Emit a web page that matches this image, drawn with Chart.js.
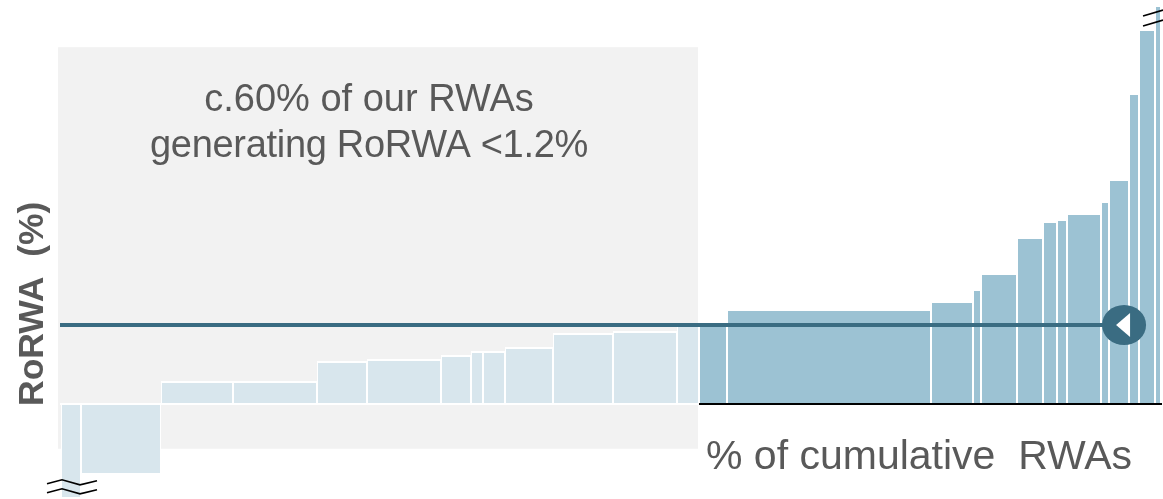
<!DOCTYPE html>
<html>
<head>
<meta charset="utf-8">
<style>html,body{margin:0;padding:0;background:#fff;overflow:hidden}canvas{display:block}</style>
<script src="https://cdn.jsdelivr.net/npm/chart.js@4"></script>
</head>
<body>
<canvas id="c" width="1163" height="499"></canvas>
<script>
// Share of cumulative RWAs per business (%), left to right
const rwaShare = [1.82,7.27,6.55,7.64,4.55,6.73,2.73,1.09,2.00,4.36,5.45,5.82,2.00,
                  2.55,18.55,3.82,0.73,3.27,2.36,1.27,0.91,3.09,0.73,1.82,0.91,1.45,0.55];
// RoRWA per business (%)
const rorwa = [-1.41,-1.05,0.35,0.35,0.65,0.68,0.74,0.81,0.81,0.87,1.08,1.11,1.20,
               1.23,1.44,1.56,1.75,1.99,2.54,2.78,2.81,2.90,3.08,3.42,4.72,5.70,6.06];
const averageRorwa = 1.2;
const highlightEnd = 58;      // cumulative % where the shaded group ends
const markerAt = 96.64;       // cumulative % of the average marker
const noteLines = ['c.60% of our RWAs', 'generating RoRWA <1.2%'];
const yTitle = 'RoRWA  (%)';
const xTitle = '% of cumulative  RWAs';

const LIGHT = '#D8E6ED', DARK = '#9CC2D3', LINE = '#3A6C82', BAND = '#F2F2F2', TEXT = '#595959';

let run = 0;
const starts = rwaShare.map(w => { const s = run; run += w; return s; });
const barData = rorwa.map((v, i) => ({x: starts[i] + rwaShare[i] / 2, y: v}));

const variableWidth = {
  id: 'variableWidth',
  afterDatasetsUpdate(chart) {
    const sx = chart.scales.x;
    chart.getDatasetMeta(0).data.forEach((el, i) => {
      const l = Math.round(sx.getPixelForValue(starts[i]));
      const r = Math.round(sx.getPixelForValue(starts[i] + rwaShare[i]));
      el.x = (l + r) / 2;
      el.width = r - l;
      el.y = Math.round(el.y);
      el.base = Math.round(el.base);
    });
  }
};

const decor = {
  id: 'decor',
  beforeDatasetsDraw(chart) {
    const {ctx, scales: {x, y}} = chart;
    const l = x.getPixelForValue(-0.27), r = x.getPixelForValue(highlightEnd - 0.09);
    const t = y.getPixelForValue(5.42), b = y.getPixelForValue(-0.68);
    ctx.save();
    ctx.fillStyle = BAND;
    ctx.fillRect(l, t, r - l, b - t);
    ctx.restore();
  },
  afterDatasetsDraw(chart) {
    const {ctx, scales: {x, y}} = chart;
    ctx.save();
    // average marker
    const mx = x.getPixelForValue(markerAt), my = y.getPixelForValue(averageRorwa);
    ctx.fillStyle = LINE;
    ctx.beginPath();
    ctx.ellipse(mx, my, 22, 20, 0, 0, Math.PI * 2);
    ctx.fill();
    ctx.fillStyle = '#fff';
    ctx.beginPath();
    ctx.moveTo(mx - 8, my);
    ctx.lineTo(mx + 6, my - 12);
    ctx.lineTo(mx + 6, my + 12);
    ctx.closePath();
    ctx.fill();
    // axis-break marks
    const bx = x.getPixelForValue(starts[0]), by = y.getPixelForValue(rorwa[0]);
    ctx.strokeStyle = '#000';
    ctx.lineWidth = 1.6;
    [-17, -8].forEach(off => {
      ctx.beginPath();
      ctx.moveTo(bx - 14, by + off + 4);
      ctx.lineTo(bx + 1, by + off);
      ctx.lineTo(bx + 19, by + off + 5);
      ctx.lineTo(bx + 36, by + off + 1);
      ctx.stroke();
    });
    const tx = x.getPixelForValue(100), ty = y.getPixelForValue(rorwa[26]);
    [6, 16].forEach(off => {
      ctx.beginPath();
      ctx.moveTo(tx - 18, ty + off + 5);
      ctx.lineTo(tx + 2, ty + off - 1);
      ctx.stroke();
    });
    // text
    ctx.fillStyle = TEXT;
    ctx.textBaseline = 'alphabetic';
    ctx.textAlign = 'center';
    ctx.font = '38px "Liberation Sans", Arial, sans-serif';
    const cx = x.getPixelForValue(28);
    ctx.fillText(noteLines[0], cx, 111);
    ctx.letterSpacing = '-0.3px';
    ctx.fillText(noteLines[1], cx, 157);
    ctx.letterSpacing = '0px';
    ctx.textAlign = 'left';
    ctx.font = '41px "Liberation Sans", Arial, sans-serif';
    ctx.fillText(xTitle, 706, 469);
    ctx.translate(43, 406);
    ctx.rotate(-Math.PI / 2);
    ctx.font = 'bold 35.5px "Liberation Sans", Arial, sans-serif';
    ctx.fillText(yTitle, 0, 0);
    ctx.restore();
  }
};

new Chart(document.getElementById('c'), {
  type: 'bar',
  data: {
    datasets: [
      {
        type: 'bar',
        order: 3,
        data: barData,
        backgroundColor: ctx => ctx.raw.x < highlightEnd ? LIGHT : DARK,
        borderColor: '#fff',
        borderSkipped: false,
        inflateAmount: 0,
        borderWidth: ctx => ({top: ctx.raw.y > 0 ? 2 : 0, bottom: 0, left: 1, right: 1})
      },
      {
        type: 'line', order: 2, borderColor: '#fff', borderWidth: 2, pointRadius: 0,
        data: [{x: -0.09, y: 0}, {x: highlightEnd, y: 0}]
      },
      {
        type: 'line', order: 2, borderColor: '#000', borderWidth: 2, pointRadius: 0,
        data: [{x: highlightEnd, y: 0}, {x: 100.09, y: 0}]
      },
      {
        type: 'line', order: 1, borderColor: LINE, borderWidth: 4, pointRadius: 0,
        data: [{x: -0.09, y: averageRorwa}, {x: markerAt, y: averageRorwa}]
      }
    ]
  },
  options: {
    responsive: false,
    animation: false,
    layout: {padding: 0},
    plugins: {legend: {display: false}, tooltip: {enabled: false}},
    scales: {
      x: {type: 'linear', min: -5.545, max: 100.18, offset: false, display: false},
      y: {type: 'linear', min: -1.443, max: 6.137, display: false}
    }
  },
  plugins: [variableWidth, decor]
});
</script>
</body>
</html>
